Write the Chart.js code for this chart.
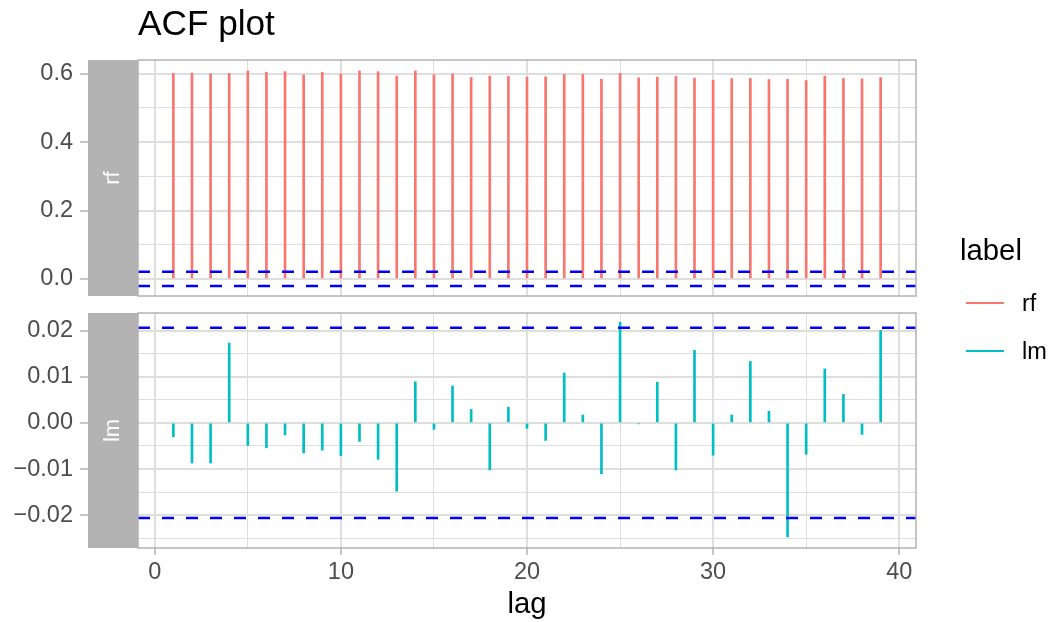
<!DOCTYPE html>
<html>
<head>
<meta charset="utf-8">
<title>ACF plot</title>
<script src="https://cdn.jsdelivr.net/npm/chart.js@4.4.1/dist/chart.umd.min.js"></script>
<style>
  html, body { margin: 0; padding: 0; background: #fff; }
  #wrap { position: relative; width: 1054px; height: 622px; font-family: "Liberation Sans", Arial, sans-serif; color: #000; }
  canvas { position: absolute; left: 0; top: 0; }
  .legend-title { position: absolute; left: 960px; top: 235px; font-size: 29.3px; line-height: 1; white-space: nowrap; }
  .key { position: absolute; left: 966px; width: 38px; height: 2.5px; }
  .key-label { position: absolute; left: 1022px; font-size: 23.5px; line-height: 1; white-space: nowrap; }
</style>
</head>
<body>
<div id="wrap">
  <canvas id="rfChart" width="1054" height="622"></canvas>
  <canvas id="lmChart" width="1054" height="622"></canvas>
  <div class="legend-title">label</div>
  <div class="key" style="top:301.5px;background:#F8766D"></div>
  <div class="key-label" style="top:292px">rf</div>
  <div class="key" style="top:349.5px;background:#00BFC4"></div>
  <div class="key-label" style="top:340px">lm</div>
</div>
<script>
// Data
const lags = [1, 2, 3, 4, 5, 6, 7, 8, 9, 10, 11, 12, 13, 14, 15, 16, 17, 18, 19, 20,
  21, 22, 23, 24, 25, 26, 27, 28, 29, 30, 31, 32, 33, 34, 35, 36, 37, 38, 39];

const rfAcf = [0.601, 0.602, 0.600, 0.601, 0.608, 0.604, 0.606, 0.596, 0.604, 0.599,
  0.608, 0.606, 0.593, 0.608, 0.597, 0.599, 0.589, 0.593, 0.592, 0.590,
  0.591, 0.598, 0.598, 0.584, 0.601, 0.588, 0.590, 0.592, 0.587, 0.581,
  0.586, 0.586, 0.583, 0.584, 0.580, 0.593, 0.586, 0.585, 0.589];

const lmAcf = [-0.0030, -0.0087, -0.0087, 0.0173, -0.0049, -0.0054, -0.0026, -0.0065, -0.0059, -0.0071,
  -0.0040, -0.0079, -0.0148, 0.0089, -0.0014, 0.0080, 0.0029, -0.0102, 0.0034, -0.0012,
  -0.0038, 0.0108, 0.0017, -0.0110, 0.0218, -0.0002, 0.0088, -0.0102, 0.0157, -0.0070,
  0.0017, 0.0133, 0.0025, -0.0247, -0.0068, 0.0117, 0.0062, -0.0025, 0.0200];

// confidence bound drawn as dashed lines
const ciBound = 0.0206;

const xLim = [-0.9, 40.9];
const xTicks = [0, 10, 20, 30, 40];
const xTickLabels = ['0', '10', '20', '30', '40'];
const xMinor = [5, 15, 25, 35];

const rfLim = [-0.05, 0.64];
const rfTicks = [0, 0.2, 0.4, 0.6];
const rfTickLabels = ['0.0', '0.2', '0.4', '0.6'];
const rfMinor = [0.1, 0.3, 0.5];

const lmLim = [-0.0271, 0.0238];
const lmTicks = [-0.02, -0.01, 0, 0.01, 0.02];
const lmTickLabels = ['\u22120.02', '\u22120.01', '0.00', '0.01', '0.02'];
const lmMinor = [-0.025, -0.015, -0.005, 0.005, 0.015];

const FONT = '"Liberation Sans", Arial, sans-serif';
Chart.defaults.font.family = FONT;
Chart.defaults.animation = false;

const near = (a, b) => Math.abs(a - b) < 1e-9;
const isIn = (list, v) => list.some(t => near(t, v));

// strip on the left of each panel + panel border
const panelDecor = {
  id: 'panelDecor',
  afterDraw(chart, args, opts) {
    const { ctx, chartArea: a } = chart;
    ctx.save();
    ctx.fillStyle = '#B3B3B3';
    ctx.fillRect(a.left - 50, a.top, 50, a.bottom - a.top);
    ctx.strokeStyle = '#B3B3B3';
    ctx.lineWidth = 1.5;
    ctx.strokeRect(a.left, a.top, a.right - a.left, a.bottom - a.top);
    ctx.translate(a.left - 25, (a.top + a.bottom) / 2);
    ctx.rotate(-Math.PI / 2);
    ctx.fillStyle = '#fff';
    ctx.font = '22px ' + FONT;
    ctx.textAlign = 'center';
    ctx.textBaseline = 'middle';
    ctx.fillText(opts.text, 0, 0);
    ctx.restore();
  }
};

function gridScale(ticks, minor) {
  const all = ticks.concat(minor).sort((a, b) => a - b);
  return scale => { scale.ticks = all.map(v => ({ value: v })); };
}

function tickLabel(ticks, labels) {
  return v => {
    const i = ticks.findIndex(t => near(t, v));
    return i >= 0 ? labels[i] : '';
  };
}

function makePanel(id, name, values, colour, yLim, yTicks, yLabels, yMinor, isTop) {
  const hline = y => ({
    type: 'line',
    data: [{ x: xLim[0], y: y }, { x: xLim[1], y: y }],
    borderColor: '#0000FF',
    borderWidth: 2.5,
    borderDash: [12, 12],
    pointRadius: 0,
    order: 0
  });

  return new Chart(document.getElementById(id), {
    type: 'bar',
    data: {
      datasets: [
        hline(ciBound),
        hline(-ciBound),
        {
          label: name,
          data: lags.map((l, i) => ({ x: l, y: values[i] })),
          backgroundColor: colour,
          borderWidth: 0,
          barThickness: 2,
          order: 1
        }
      ]
    },
    options: {
      responsive: false,
      devicePixelRatio: 1,
      layout: {
        padding: isTop ? { left: 0, right: 138, top: 0, bottom: 326 }
                       : { left: 0, right: 138, top: 313, bottom: 0 }
      },
      plugins: {
        legend: { display: false },
        tooltip: { enabled: false },
        title: {
          display: isTop,
          text: 'ACF plot',
          align: 'start',
          fullSize: false,
          color: '#000',
          font: { size: 35.2, weight: 'normal', lineHeight: 1.2 },
          padding: { top: 4, bottom: 13.8 }
        },
        panelDecor: { text: name }
      },
      scales: {
        x: {
          type: 'linear',
          min: xLim[0],
          max: xLim[1],
          bounds: 'data',
          offset: false,
          afterBuildTicks: gridScale(xTicks, xMinor),
          afterFit: s => { s.height = isTop ? 0 : 74; },
          ticks: {
            display: !isTop,
            autoSkip: false,
            maxRotation: 0,
            padding: 6,
            color: '#4D4D4D',
            font: { size: 23.5, lineHeight: 1 },
            callback: tickLabel(xTicks, xTickLabels)
          },
          grid: {
            offset: false,
            drawTicks: !isTop,
            tickLength: 7,
            color: '#DEDEDE',
            lineWidth: c => isIn(xTicks, c.tick.value) ? 2 : 1,
            tickColor: '#B3B3B3',
            tickWidth: c => isIn(xTicks, c.tick.value) ? 1.5 : 0
          },
          border: { display: false },
          title: {
            display: !isTop,
            text: 'lag',
            color: '#000',
            font: { size: 29.3, lineHeight: 1.2 },
            padding: 0
          }
        },
        y: {
          type: 'linear',
          min: yLim[0],
          max: yLim[1],
          bounds: 'data',
          afterBuildTicks: gridScale(yTicks, yMinor),
          afterFit: s => { s.width = 138; },
          ticks: {
            autoSkip: false,
            padding: 7,
            color: '#4D4D4D',
            font: { size: 23.5, lineHeight: 1 },
            callback: tickLabel(yTicks, yLabels)
          },
          grid: {
            tickLength: 58,
            color: '#DEDEDE',
            lineWidth: c => isIn(yTicks, c.tick.value) ? 2 : 1,
            tickColor: '#B3B3B3',
            tickWidth: c => isIn(yTicks, c.tick.value) ? 1.5 : 0
          },
          border: { display: false }
        }
      }
    },
    plugins: [panelDecor]
  });
}

makePanel('rfChart', 'rf', rfAcf, '#F8766D', rfLim, rfTicks, rfTickLabels, rfMinor, true);
makePanel('lmChart', 'lm', lmAcf, '#00BFC4', lmLim, lmTicks, lmTickLabels, lmMinor, false);
</script>
</body>
</html>
